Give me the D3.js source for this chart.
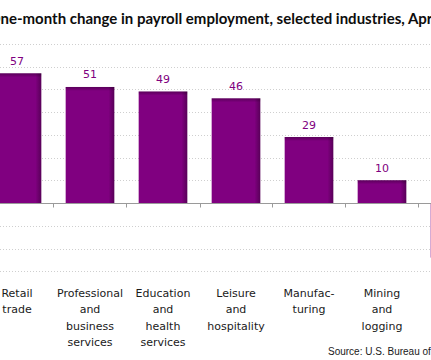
<!DOCTYPE html>
<html><head><meta charset="utf-8">
<script src="https://cdn.jsdelivr.net/npm/d3@7"></script>
<style>html,body{margin:0;padding:0;background:#fff;overflow:hidden}</style>
</head><body>
<svg id="c" width="431" height="360"></svg>
<script>
const categories = ["Retail trade","Professional and business services","Education and health services","Leisure and hospitality","Manufacturing","Mining and logging","Government"];
const labelLines = [["Retail","trade"],["Professional","and","business","services"],["Education","and","health","services"],["Leisure","and","hospitality"],["Manufac-","turing"],["Mining","and","logging"],["Govern-","ment"]];
const values = [57,51,49,46,29,10,-24];
const yTicks = [-30,-20,-10,0,10,20,30,40,50,60,70];
const title = "One-month change in payroll employment, selected industries, April 2011 (in thousands)";
const source = "Source: U.S. Bureau of Labor Statistics.";

const svg = d3.select("#c");
const x = d3.scaleBand().domain(categories).range([-19.5, -19.5 + 73*categories.length]).paddingInner(1/3).paddingOuter(1/6);
const y = d3.scaleLinear().domain([-30,70]).range([271.25, 43.75]);

const defs = svg.append("defs");
const gH = defs.append("linearGradient").attr("id","gh").attr("x1",0).attr("x2",1).attr("y1",0).attr("y2",0);
gH.append("stop").attr("offset","0").attr("stop-color","#800080");
gH.append("stop").attr("offset","0.88").attr("stop-color","#800080");
gH.append("stop").attr("offset","1").attr("stop-color","#580058");
const gV = defs.append("linearGradient").attr("id","gv").attr("x1",0).attr("x2",0).attr("y1",0).attr("y2",1);
gV.append("stop").attr("offset","0").attr("stop-color","#000").attr("stop-opacity",0.3);
gV.append("stop").attr("offset","1").attr("stop-color","#000").attr("stop-opacity",0);

// gridlines
svg.append("g").selectAll("line").data(yTicks.filter(d=>d!==0)).join("line")
  .attr("x1",0).attr("x2",431).attr("y1",d=>Math.round(y(d))+0.5).attr("y2",d=>Math.round(y(d))+0.5)
  .attr("stroke","#cfcfcf").attr("stroke-dasharray","1,2");

// bars
const bars = svg.append("g");
bars.selectAll("rect.b").data(values).join("rect").attr("class","b")
  .attr("x",(d,i)=>x(categories[i])).attr("width",x.bandwidth())
  .attr("y",d=>y(Math.max(0,d))).attr("height",d=>Math.abs(y(d)-y(0)))
  .attr("fill","url(#gh)");
bars.selectAll("rect.t").data(values.filter(d=>d>0)).join("rect").attr("class","t")
  .attr("x",(d,i)=>x(categories[i])).attr("width",x.bandwidth())
  .attr("y",d=>y(d)).attr("height",4).attr("fill","url(#gv)");

// axis
const axisG = svg.append("g").attr("transform",`translate(0,${Math.round(y(0))+0.5})`);
axisG.append("line").attr("x1",0).attr("x2",431).attr("stroke","#9a9a9a");
const bounds = categories.map(c=>x(c)-x.step()*x.paddingInner()/2);
axisG.selectAll("line.tk").data(bounds).join("line").attr("class","tk")
  .attr("x1",d=>Math.round(d)+0.5).attr("x2",d=>Math.round(d)+0.5).attr("y1",0).attr("y2",4).attr("stroke","#9a9a9a");

// value labels
svg.append("g").selectAll("text").data(values).join("text")
  .attr("x",(d,i)=>x(categories[i])+x.bandwidth()/2)
  .attr("y",d=>d>=0? y(d)-8.5 : y(d)+14)
  .attr("text-anchor","middle").attr("font-family","DejaVu Sans").attr("font-size",11)
  .attr("fill","#800080").text(d=>d);

// category labels
const cl = svg.append("g").selectAll("text").data(categories).join("text")
  .attr("x",c=>x(c)+x.bandwidth()/2).attr("y",297)
  .attr("text-anchor","middle").attr("font-family","DejaVu Sans").attr("font-size",11).attr("fill","#1a1a1a");
cl.each(function(c,i){
  d3.select(this).selectAll("tspan").data(labelLines[i]).join("tspan")
    .attr("x",x(c)+x.bandwidth()/2).attr("dy",(d,j)=>j?16.3:0).text(d=>d);
});

// title
const t = svg.append("text").attr("y",24).attr("font-family","Lato").attr("font-weight","bold").attr("font-size",15).attr("fill","#0d0d0d").text(title);
const wO = t.node().getSubStringLength(0,1);
const wSub = t.node().getSubStringLength(1,63);
const sx = 432/wSub;
t.attr("transform",`translate(${-wO*sx+0.5},0) scale(${sx},1)`);

// source
svg.append("text").attr("x",328).attr("y",354.5).attr("font-family","Liberation Sans").attr("font-size",10).attr("fill","#1a1a1a").text(source);
</script>
</body></html>
